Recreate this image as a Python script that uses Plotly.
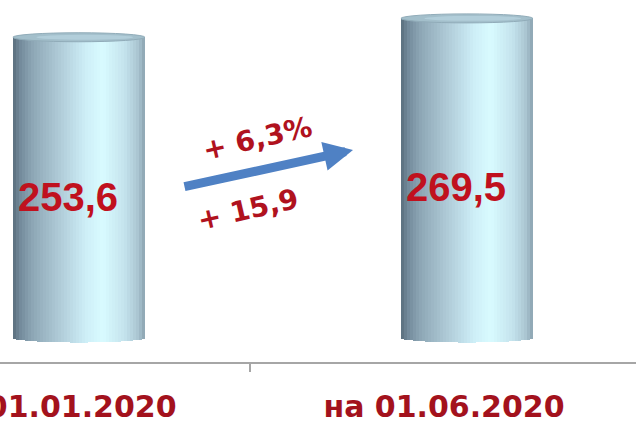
import numpy as np
import plotly.graph_objects as go

# ---- data ----
categories = ["на 01.01.2020", "на 01.06.2020"]
values = [253.6, 269.5]

def fmt(v, d=1):
    return f"{v:.{d}f}".replace(".", ",")

value_labels = [fmt(v) for v in values]
change_abs = values[1] - values[0]
change_pct = (values[1] / values[0] - 1) * 100
pct_label = "+ " + fmt(change_pct) + "%"
abs_label = "+ " + fmt(change_abs)

# ---- cylinder styling ----
N = 44
cyl_w = 0.34          # in category units
cyl_off = 0.059       # shift of cylinder centre right of category centre
ell = 3.8             # half-height of end ellipses, in value units

stops = [
    (0.00, (0x5a, 0x6e, 0x7c)),
    (0.05, (0x72, 0x89, 0x9a)),
    (0.15, (0x8e, 0xa7, 0xb6)),
    (0.35, (0xaf, 0xcb, 0xd7)),
    (0.55, (0xcd, 0xee, 0xf7)),
    (0.68, (0xd9, 0xfb, 0xff)),
    (0.85, (0xc3, 0xe2, 0xec)),
    (0.95, (0xa9, 0xc4, 0xd0)),
    (1.00, (0x8b, 0xa3, 0xb0)),
]

def grad(u):
    for (u0, c0), (u1, c1) in zip(stops[:-1], stops[1:]):
        if u <= u1:
            t = (u - u0) / (u1 - u0) if u1 > u0 else 0
            c = [round(a + (b - a) * t) for a, b in zip(c0, c1)]
            return f"rgb({c[0]},{c[1]},{c[2]})"
    c = stops[-1][1]
    return f"rgb({c[0]},{c[1]},{c[2]})"

fig = go.Figure()
sw = cyl_w / N
for i in range(N):
    u = (i + 0.5) / N
    base_depth = -ell * np.sqrt(max(0.0, 1 - (2 * u - 1) ** 2))
    fig.add_trace(go.Bar(
        x=categories, y=[v - base_depth for v in values],
        base=[base_depth] * len(values),
        width=sw * 1.25,
        offset=cyl_off - cyl_w / 2 + i * sw - sw * 0.1,
        marker=dict(color=grad(u), line=dict(width=0)),
        hoverinfo="skip", showlegend=False,
    ))

shapes = []
for k, v in enumerate(values):
    cx = k + cyl_off
    shapes.append(dict(type="circle", xref="x", yref="y",
                       x0=cx - cyl_w / 2, x1=cx + cyl_w / 2,
                       y0=v - ell, y1=v + ell,
                       fillcolor="#a3bfcb", line=dict(color="#91acb9", width=1)))
    shapes.append(dict(type="circle", xref="x", yref="y",
                       x0=cx - cyl_w / 2 + 0.06, x1=cx + cyl_w / 2 - 0.03,
                       y0=v - ell * 0.55, y1=v + ell * 0.55,
                       fillcolor="#b2ceda", line=dict(width=0)))

annotations = []
for k, (v, lab) in enumerate(zip(values, value_labels)):
    annotations.append(dict(x=k, y=v / 2, xref="x", yref="y", text=lab,
                            showarrow=False, xshift=12, yshift=-9,
                            font=dict(family="Liberation Sans", size=40,
                                      color="#c0111e", weight="bold")))

# growth arrow
annotations.append(dict(x=0.7655, y=158.5, ax=0.3273, ay=127.3,
                        xref="x", yref="y", axref="x", ayref="y",
                        text="", showarrow=True, arrowhead=2,
                        arrowsize=0.65, arrowwidth=9, arrowcolor="#4f81c4"))
annotations.append(dict(x=0.52, y=168, xref="x", yref="y", text=pct_label,
                        showarrow=False, textangle=-13,
                        font=dict(family="DejaVu Sans", size=28,
                                  color="#b0121e", weight="bold")))
annotations.append(dict(x=0.495, y=108, xref="x", yref="y", text=abs_label,
                        showarrow=False, textangle=-13,
                        font=dict(family="DejaVu Sans", size=28,
                                  color="#b0121e", weight="bold")))

fig.update_layout(
    width=636, height=427,
    margin=dict(l=0, r=0, t=0, b=65, pad=0, autoexpand=False),
    paper_bgcolor="white", plot_bgcolor="white",
    barmode="overlay", bargap=0,
    shapes=shapes, annotations=annotations,
    xaxis=dict(type="category", range=[-0.1443, 1.4948], automargin=False,
               showline=True, linecolor="#a6a6a6", linewidth=2,
               ticks="outside", tickson="boundaries", ticklen=8,
               tickcolor="#a6a6a6", tickwidth=1.5, ticklabelstandoff=17,
               showgrid=False, zeroline=False,
               tickfont=dict(family="DejaVu Sans", size=30,
                             color="#a3121d", weight="bold")),
    yaxis=dict(range=[-20.2, 285], visible=False, showgrid=False,
               zeroline=False, automargin=False),
)

fig.write_html("out.html",
               config={"displayModeBar": False},
               post_script="document.body.style.margin='0';"
                           "document.body.style.overflow='hidden';")
